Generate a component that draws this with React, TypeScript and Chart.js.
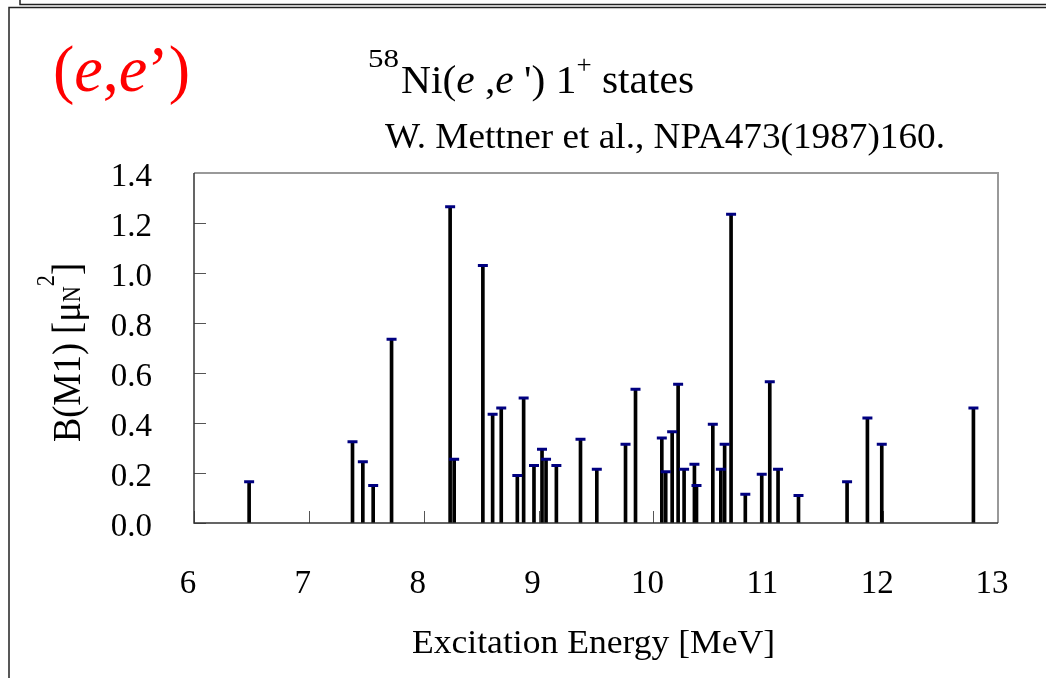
import React, { useEffect, useRef } from "react";
import { Chart, registerables } from "chart.js";

Chart.register(...registerables);

// Excitation energies [MeV]
const energies = [
  6.48, 7.38, 7.47, 7.56, 7.72, 8.23, 8.265, 8.515, 8.6, 8.675,
  8.815, 8.87, 8.96, 9.03, 9.065, 9.155, 9.365, 9.507, 9.757, 9.844,
  10.073, 10.107, 10.163, 10.215, 10.267, 10.357, 10.375, 10.517, 10.587, 10.62,
  10.676, 10.8, 10.943, 11.013, 11.085, 11.263, 11.686, 11.863, 11.988, 12.786,
];
// B(M1) strengths [muN^2]
const strengths = [
  0.165, 0.325, 0.245, 0.15, 0.735, 1.265, 0.255, 1.03, 0.435, 0.46,
  0.19, 0.5, 0.23, 0.295, 0.255, 0.23, 0.335, 0.215, 0.315, 0.535,
  0.34, 0.205, 0.365, 0.555, 0.215, 0.235, 0.15, 0.395, 0.215, 0.315,
  1.235, 0.115, 0.195, 0.565, 0.215, 0.11, 0.165, 0.42, 0.315, 0.46,
];
const xTickValues = [6, 7, 8, 9, 10, 11, 12, 13];
const yTickValues = [0, 0.2, 0.4, 0.6, 0.8, 1.0, 1.2, 1.4];

const subtitle = "W. Mettner et al., NPA473(1987)160.";
const xTitle = "Excitation Energy [MeV]";

const SERIF = "'Liberation Serif', 'Times New Roman', serif";

type Run = { text: string; font: string; dy?: number; color?: string };

function drawRuns(ctx: CanvasRenderingContext2D, runs: Run[], x: number, y: number, target?: number, sy = 1) {
  let total = 0;
  const widths: number[] = [];
  for (const r of runs) {
    ctx.font = r.font;
    const w = ctx.measureText(r.text).width;
    widths.push(w);
    total += w;
  }
  const sx = target ? target / total : 1;
  ctx.save();
  ctx.translate(x, y);
  ctx.scale(sx, sy);
  ctx.textBaseline = "alphabetic";
  ctx.textAlign = "left";
  let cx = 0;
  runs.forEach((r, i) => {
    ctx.font = r.font;
    ctx.fillStyle = r.color || "#000";
    ctx.fillText(r.text, cx, r.dy || 0);
    cx += widths[i];
  });
  ctx.restore();
}

const decorPlugin = {
  id: "decor",
  beforeDatasetsDraw(chart: any) {
    const ctx: CanvasRenderingContext2D = chart.ctx;
    const { left, right, top, bottom } = chart.chartArea;
    const xs = chart.scales.x;
    const ys = chart.scales.y;
    ctx.save();
    // inner ticks
    ctx.strokeStyle = "#555";
    ctx.lineWidth = 1;
    ctx.beginPath();
    for (const v of xTickValues) {
      const px = Math.round(xs.getPixelForValue(v)) + 0.5;
      ctx.moveTo(px, bottom);
      ctx.lineTo(px, bottom - 12);
    }
    for (const v of yTickValues) {
      const py = Math.round(ys.getPixelForValue(v)) + 0.5;
      ctx.moveTo(left, py);
      ctx.lineTo(left + 12, py);
    }
    ctx.stroke();
    // top & right border (light)
    ctx.strokeStyle = "#999";
    ctx.lineWidth = 2;
    ctx.beginPath();
    ctx.moveTo(left, top);
    ctx.lineTo(right, top);
    ctx.lineTo(right, bottom);
    ctx.stroke();
    ctx.restore();
  },
  afterDatasetsDraw(chart: any) {
    const ctx: CanvasRenderingContext2D = chart.ctx;
    const { left, right, top, bottom } = chart.chartArea;
    ctx.save();
    // left & bottom axis
    ctx.strokeStyle = "#333";
    ctx.lineWidth = 1.5;
    ctx.beginPath();
    ctx.moveTo(left, top);
    ctx.lineTo(left, bottom);
    ctx.lineTo(right, bottom);
    ctx.stroke();

    // slide frame lines
    ctx.strokeStyle = "#222";
    ctx.lineWidth = 1.5;
    ctx.beginPath();
    ctx.moveTo(20, 0);
    ctx.lineTo(20, 4.5);
    ctx.lineTo(1046, 4.5);
    ctx.moveTo(1046, 7.5);
    ctx.lineTo(9, 7.5);
    ctx.lineTo(9, 678);
    ctx.stroke();

    // red tag (e,e')
    const red = "#ff0000";
    drawRuns(
      ctx,
      [
        { text: "(", font: `66px ${SERIF}`, color: red },
        { text: "e", font: `italic 66px ${SERIF}`, color: red },
        { text: ",", font: `66px ${SERIF}`, color: red },
        { text: "e", font: `italic 66px ${SERIF}`, color: red },
        { text: "\u2019)", font: `66px ${SERIF}`, color: red },
      ],
      53,
      91,
      137
    );

    // main title
    const big = `40px ${SERIF}`;
    const bigI = `italic 40px ${SERIF}`;
    const sup = `26px ${SERIF}`;
    drawRuns(ctx, [{ text: "58", font: sup, dy: -26 }], 368, 93, 31);
    drawRuns(
      ctx,
      [
        { text: "Ni(", font: big },
        { text: "e", font: bigI },
        { text: " ,", font: big },
        { text: "e", font: bigI },
        { text: " ') 1", font: big },
        { text: "+", font: sup, dy: -20 },
        { text: " states", font: big },
      ],
      401,
      93,
      293
    );

    // subtitle
    drawRuns(ctx, [{ text: subtitle, font: `35px ${SERIF}` }], 385, 148, 560);

    // x title
    drawRuns(ctx, [{ text: xTitle, font: `34px ${SERIF}` }], 412, 653, 363);

    // y title (rotated)
    ctx.save();
    ctx.translate(80, 442);
    ctx.rotate(-Math.PI / 2);
    drawRuns(
      ctx,
      [
        { text: "B(M1) [\u03bc", font: `36px ${SERIF}` },
        { text: "N", font: `22px ${SERIF}`, dy: 0 },
        { text: "2", font: `22px ${SERIF}`, dy: -24 },
        { text: "]", font: `36px ${SERIF}` },
      ],
      0,
      0,
      179,
      1.1
    );
    ctx.restore();
    ctx.restore();
  },
};

export default function App() {
  const ref = useRef<HTMLCanvasElement>(null);
  useEffect(() => {
    if (!ref.current) return;
    const stems = energies.map((e, i) => ({ x: e, y: strengths[i] }));
    const chart = new Chart(ref.current, {
      type: "bar",
      data: {
        datasets: [
          {
            type: "scatter",
            data: stems,
            pointStyle: "line",
            radius: 5,
            borderWidth: 3,
            borderColor: "#000080",
            backgroundColor: "#000080",
            order: 1,
          } as any,
          {
            type: "bar",
            data: stems,
            backgroundColor: "#000000",
            barThickness: 3,
            borderWidth: 0,
            order: 2,
          } as any,
        ],
      },
      options: {
        responsive: false,
        animation: false,
        events: [],
        layout: { padding: { left: 0, right: 48, top: 173, bottom: 0 } },
        plugins: {
          legend: { display: false },
          tooltip: { enabled: false },
          title: { display: false },
        },
        scales: {
          x: {
            type: "linear",
            position: "bottom",
            offset: false,
            min: 6,
            max: 13,
            afterFit: (s: any) => {
              s.height = 155;
              s.paddingLeft = 0;
              s.paddingRight = 0;
            },
            afterBuildTicks: (s: any) => {
              s.ticks = xTickValues.map((v) => ({ value: v }));
            },
            grid: { display: false, drawTicks: false },
            border: { display: false },
            ticks: {
              font: { family: "'Liberation Serif', serif", size: 33 },
              color: "#000",
              padding: 42,
              labelOffset: -6,
              maxRotation: 0,
              autoSkip: false,
              callback: (v: any) => String(v),
            },
          },
          y: {
            type: "linear",
            min: 0,
            max: 1.4,
            afterFit: (s: any) => {
              s.width = 194;
              s.paddingTop = 0;
              s.paddingBottom = 0;
            },
            afterBuildTicks: (s: any) => {
              s.ticks = yTickValues.map((v) => ({ value: v }));
            },
            grid: { display: false, drawTicks: false },
            border: { display: false },
            ticks: {
              font: { family: "'Liberation Serif', serif", size: 33 },
              color: "#000",
              padding: 42,
              labelOffset: 4,
              autoSkip: false,
              callback: (v: any) => Number(v).toFixed(1),
            },
          },
        },
      } as any,
      plugins: [decorPlugin],
    });
    return () => chart.destroy();
  }, []);
  return (
    <div style={{ position: "absolute", left: 0, top: 0, width: 1046, height: 678, background: "#fff" }}>
      <canvas ref={ref} width={1046} height={678} style={{ display: "block", width: 1046, height: 678 }} />
    </div>
  );
}
